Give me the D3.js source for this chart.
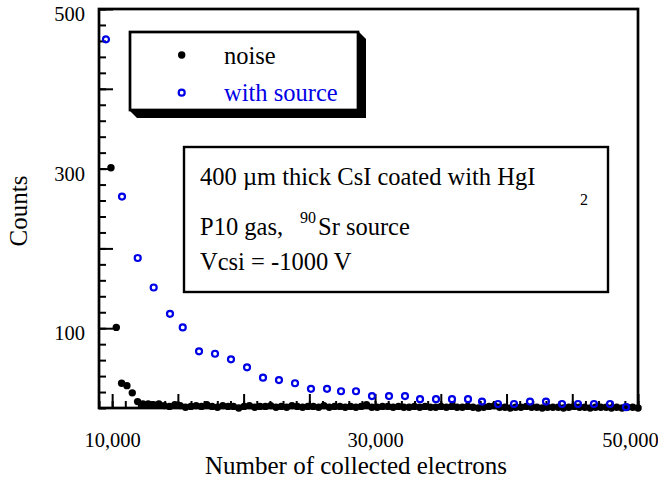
<!DOCTYPE html>
<html>
<head>
<meta charset="utf-8">
<script src="https://cdn.jsdelivr.net/npm/d3@7"></script>
<style>
body { margin: 0; background: #fff; }
</style>
</head>
<body>
<script>
var width = 658, height = 486;
var serif = '"Liberation Serif", "Times New Roman", Times, "DejaVu Serif", serif';
//Plot frame in pixels.
var margin = {top: 9, right: 20, bottom: 78, left: 99};
var innerWidth = width - margin.left - margin.right;
var innerHeight = height - margin.top - margin.bottom;

//Blue open circles: with source.
var sourceX = [9530, 10750, 11945, 13160, 14400, 15370, 16610, 17825, 19040, 20260,
	21475, 22690, 23910, 25125, 26345, 27410, 28550, 29765, 31060, 32275,
	33420, 34635, 35850, 37070, 38135, 39350, 40570, 41785, 43000, 44220,
	45435, 46650, 47870, 49085];
var sourceCounts = [462, 265, 188, 151, 118, 101, 71, 68, 61, 51,
	38, 35, 31, 24, 24, 21, 21, 15, 15, 15,
	11, 11, 11, 11, 8, 5, 5, 8, 8, 5,
	5, 5, 5, 1];

//Black dots: noise.
var noiseX = [9910, 10315, 10720, 11125, 11530, 11935, 12340, 12745, 13150, 13555,
	13960, 14365, 14770, 15175, 15580, 15985, 16390, 16795, 17200, 17605,
	18010, 18415, 18820, 19225, 19630, 20035, 20440, 20845, 21250, 21655,
	22060, 22465, 22870, 23275, 23680, 24085, 24490, 24895, 25300, 25705,
	26110, 26515, 26920, 27325, 27730, 28135, 28540, 28945, 29350, 29755,
	30160, 30565, 30970, 31375, 31780, 32185, 32590, 32995, 33400, 33805,
	34210, 34615, 35020, 35425, 35830, 36235, 36640, 37045, 37450, 37855,
	38260, 38665, 39070, 39475, 39880, 40285, 40690, 41095, 41500, 41905,
	42310, 42715, 43120, 43525, 43930, 44335, 44740, 45145, 45550, 45955,
	46360, 46765, 47170, 47575, 47980, 48385, 48790, 49195, 49600, 50005];
var noiseCounts = [301, 101, 31, 28, 19, 8, 5, 5, 4, 5,
	3, 2, 4, 3, 1, 2, 3, 2, 4, 2,
	1, 3, 2, 2, 0, 2, 3, 1, 2, 2,
	3, 1, 2, 1, 3, 2, 1, 2, 2, 1,
	3, 1, 2, 2, 1, 2, 1, 2, 4, 1,
	1, 2, 2, 1, 2, 1, 1, 2, 1, 2,
	1, 1, 2, 1, 2, 1, 1, 2, 1, 0,
	1, 2, 3, 1, 1, 0, 1, 1, 2, 1,
	1, 0, 1, 1, 1, 0, 1, 2, 1, 1,
	0, 1, 1, 1, 0, 1, 0, 1, 1, 0];

var xMajor = [10000, 15000, 20000, 25000, 30000, 35000, 40000, 45000, 50000];
var xLabels = [10000, 30000, 50000];
var yMajor = [100, 200, 300, 400, 500];
var yLabels = [100, 300, 500];

var svg = d3.select('body').append('svg')
	.attr('width', width)
	.attr('height', height)
	.style('font-family', serif);

var inner = svg.append('g')
	.attr('transform', 'translate(' + margin.left + ',' + margin.top + ')');

var xScale = d3.scaleLinear().domain([9000, 50000]).range([0, innerWidth]);
var yScale = d3.scaleLinear().domain([0, 500]).range([innerHeight, 0]);

//Minor ticks every 1000 on x and 20 on y, pointing inward.
var xMinor = d3.range(9000, 50001, 1000);
var yMinor = d3.range(0, 501, 20);

inner.append('g').attr('class', 'axis')
	.attr('transform', 'translate(0,' + innerHeight + ')')
	.call(d3.axisBottom(xScale).tickValues(xMinor).tickSize(-7).tickFormat(''));
inner.append('g').attr('class', 'axis')
	.attr('transform', 'translate(0,' + innerHeight + ')')
	.call(d3.axisBottom(xScale).tickValues(xMajor).tickSize(-14)
		.tickFormat(function(d) { return xLabels.indexOf(d) >= 0 ? d3.format(',')(d) : ''; }))
	.call(function(g) {
		g.selectAll('text').attr('y', 32).attr('dy', '0.32em').style('font-size', '20.5px');
		g.selectAll('text').filter(function(d) { return d == 50000; }).attr('dx', -8);
	});

inner.append('g').attr('class', 'axis')
	.call(d3.axisLeft(yScale).tickValues(yMinor).tickSize(-7).tickFormat(''));
inner.append('g').attr('class', 'axis')
	.call(d3.axisLeft(yScale).tickValues(yMajor).tickSize(-14)
		.tickFormat(function(d) { return yLabels.indexOf(d) >= 0 ? d : ''; }))
	.call(function(g) {
		g.selectAll('text').attr('x', -14).attr('dy', '0.32em').attr('y', 5).style('font-size', '20.5px');
	});

svg.selectAll('.axis path').remove();
svg.selectAll('.axis text').filter(function() { return this.textContent == ''; }).remove();
svg.selectAll('.axis').attr('font-family', null).attr('font-size', null);
svg.selectAll('.axis line').attr('stroke', '#000').attr('stroke-width', 2);
svg.selectAll('.axis text').attr('fill', '#000');

//Frame around the plot.
inner.append('rect')
	.attr('width', innerWidth)
	.attr('height', innerHeight)
	.style('fill', 'none')
	.style('stroke', '#000')
	.style('stroke-width', 2.7);

//Legend box with its dark shadow.
svg.append('path')
	.attr('d', 'M129,110 L137,118 L366,118 L366,39 L358,31 Z')
	.style('fill', '#000');
svg.append('rect')
	.attr('x', 130).attr('y', 32).attr('width', 228).attr('height', 78)
	.style('fill', '#fff').style('stroke', '#000').style('stroke-width', 2.7);
svg.append('circle').attr('cx', 181.7).attr('cy', 55).attr('r', 3.7).style('fill', '#000');
svg.append('circle').attr('cx', 181.7).attr('cy', 92.7).attr('r', 3)
	.style('fill', 'none').style('stroke', '#0000e6').style('stroke-width', 2.2);
svg.append('text').attr('x', 224).attr('y', 64).style('font-size', '24.5px').text('noise');
svg.append('text').attr('x', 224).attr('y', 101).style('font-size', '24.5px')
	.style('fill', '#0000e6').text('with source');

//Annotation box.
svg.append('rect')
	.attr('x', 184).attr('y', 147).attr('width', 424).attr('height', 145)
	.style('fill', '#fff').style('stroke', '#000').style('stroke-width', 2.4);
svg.append('text').attr('x', 200).attr('y', 185).style('font-size', '24.5px')
	.text('400 \u00b5m thick CsI coated with HgI');
svg.append('text').attr('x', 580).attr('y', 205).style('font-size', '16px').text('2');
svg.append('text').attr('x', 200).attr('y', 235).style('font-size', '24.5px').text('P10 gas,');
svg.append('text').attr('x', 300).attr('y', 223).style('font-size', '16px').text('90');
svg.append('text').attr('x', 318).attr('y', 235).style('font-size', '24.5px').text('Sr source');
svg.append('text').attr('x', 200).attr('y', 270).style('font-size', '24.5px').text('Vcsi = -1000 V');

//Data points.
var noise = noiseX.map(function(d, i) { return [d, noiseCounts[i]]; });
var source = sourceX.map(function(d, i) { return [d, sourceCounts[i]]; });

inner.selectAll('.noise').data(noise).enter().append('circle')
	.attr('class', 'noise')
	.attr('cx', function(d) { return xScale(d[0]); })
	.attr('cy', function(d) { return yScale(d[1]); })
	.attr('r', 3.7)
	.style('fill', '#000');

inner.selectAll('.source').data(source).enter().append('circle')
	.attr('class', 'source')
	.attr('cx', function(d) { return xScale(d[0]); })
	.attr('cy', function(d) { return yScale(d[1]); })
	.attr('r', 3)
	.style('fill', 'none')
	.style('stroke', '#0000e6')
	.style('stroke-width', 2.2);

//Axis titles.
svg.append('text')
	.attr('x', 356).attr('y', 474)
	.attr('text-anchor', 'middle')
	.style('font-size', '25px')
	.text('Number of collected electrons');
svg.append('text')
	.attr('transform', 'translate(27,211) rotate(-90)')
	.attr('text-anchor', 'middle')
	.style('font-size', '25px')
	.text('Counts');
</script>
</body>
</html>
